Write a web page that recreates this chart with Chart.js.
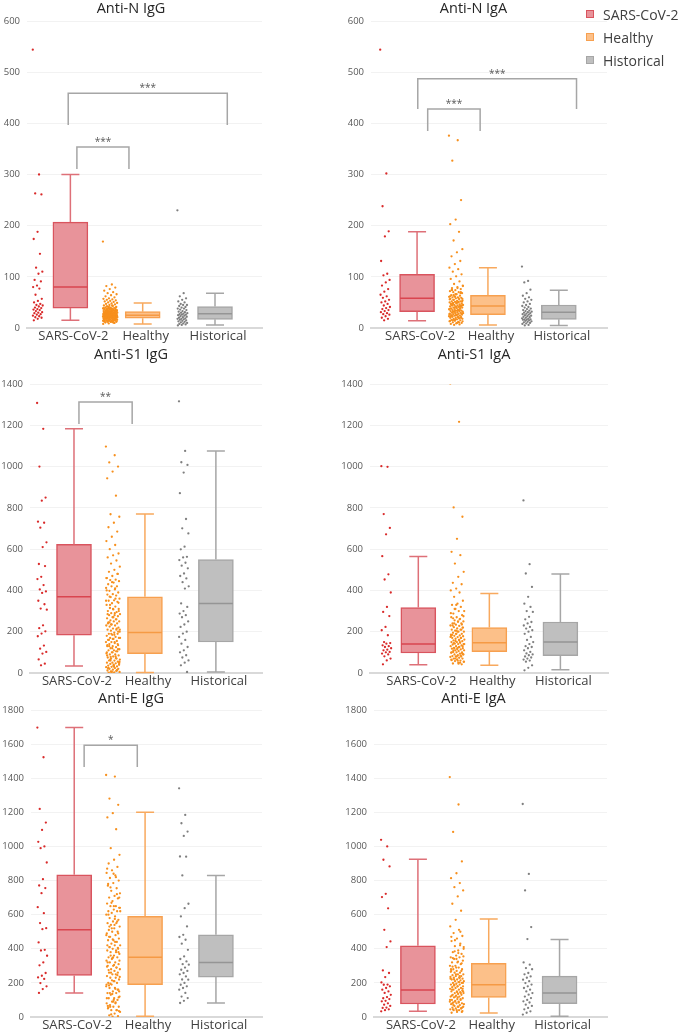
<!DOCTYPE html>
<html>
<head>
<meta charset="utf-8">
<script src="https://cdn.jsdelivr.net/npm/chart.js@4/dist/chart.umd.min.js"></script>
<style>
  body { margin: 0; background: #fff; width: 681px; height: 1033px; position: relative; overflow: hidden; font-family: "Open Sans", sans-serif; }
  canvas { position: absolute; }
  #legend { position: absolute; left: 586px; top: 6px; font-size: 14px; color: #404040; }
  #legend div { height: 23px; line-height: 18px; white-space: nowrap; }
  #legend span { display: inline-block; width: 6px; height: 6px; border: 1px solid; margin-right: 9px; vertical-align: 2px; }
</style>
</head>
<body>
<canvas id="c1" width="340" height="345" style="left:0;top:0"></canvas>
<canvas id="c2" width="341" height="345" style="left:340px;top:0"></canvas>
<canvas id="c3" width="340" height="345" style="left:0;top:345px"></canvas>
<canvas id="c4" width="341" height="345" style="left:340px;top:345px"></canvas>
<canvas id="c5" width="340" height="343" style="left:0;top:690px"></canvas>
<canvas id="c6" width="341" height="343" style="left:340px;top:690px"></canvas>
<div id="legend"></div>
<script>
// groups on the x axis
var groups = ['SARS-CoV-2', 'Healthy', 'Historical'];

// box stats per group: [min, q1, median, q3, max]
var nIgG_box = [[15, 39, 80, 207, 300], [8, 19, 25, 32, 49], [6, 17, 28, 42, 68]];
var nIgA_box = [[14, 32, 58, 105, 188], [6, 26, 43, 64, 118], [5, 17, 31, 45, 74]];
var s1IgG_box = [[34, 183, 369, 623, 1183], [2, 94, 196, 369, 770], [5, 150, 337, 550, 1075]];
var s1IgA_box = [[40, 97, 141, 317, 564], [37, 103, 147, 220, 385], [16, 84, 150, 247, 480]];
var eIgG_box = [[141, 244, 511, 834, 1697], [4, 189, 351, 590, 1201], [82, 234, 320, 482, 830]];
var eIgA_box = [[33, 76, 158, 418, 925], [23, 115, 189, 314, 574], [4, 78, 141, 240, 455]];

// individual points
var nIgG_sars = [544,300,263,261,188,174,145,118,110,106,94,91,83,80,77,65,57,53,50,47,45,44,42,40,39,37,36,35,33,31,30,29,27,26,24,23,21,20,18,15];
var nIgG_healthy = [169,85,82,79,76,73,70,68,66,64,62,60,58,57,56,55,54,53,52,51,50,49,48,47,46,45,44,43,42,41,40,40,39,39,38,38,37,37,36,36,35,35,35,34,34,34,33,33,33,32,32,32,31,31,31,30,30,30,30,29,29,29,29,28,28,28,28,27,27,27,27,26,26,26,26,25,25,25,25,24,24,24,24,23,23,23,23,22,22,22,22,21,21,21,21,20,20,20,20,19,19,19,18,18,18,17,17,17,16,16,16,15,15,15,14,14,13,13,12,12,11,10,9,8,
  44,42,40,38,37,36,35,34,33,32,31,30,29,28,27,26,25,24,23,22,21,20,19,18,17,16,15,14,13,12,11,10,
  41,39,37,35,33,31,29,27,25,23,21,19,17,15,13,11,38,34,30,26,22,18,14,36,32,28,24,20,16,12,33,27,21,15,30,24,18];
var nIgG_hist = [230,68,62,58,55,52,50,47,45,45,43,41,40,38,38,36,35,33,32,31,30,29,28,27,26,26,25,24,23,22,21,20,19,18,18,17,16,15,14,13,12,11,10,9,8,7,6,5];

var nIgA_sars = [544,302,238,189,179,131,106,103,94,89,83,76,71,65,62,59,55,52,50,47,44,41,39,37,35,33,31,29,27,26,23,20,18,15];
var nIgA_healthy = [376,367,327,250,212,203,188,171,154,148,140,131,125,118,115,110,105,101,96,91,86,83,80,78,76,74,72,70,70,68,66,64,63,62,61,60,60,59,58,57,56,55,54,53,52,52,51,50,50,49,48,48,47,46,45,45,44,44,43,42,42,41,40,40,39,38,38,37,36,36,35,34,34,33,33,32,32,31,30,30,29,28,28,27,26,26,25,24,24,23,22,22,21,20,20,19,18,18,17,16,15,14,13,12,11,10,9,8,7,6,
  82,78,74,70,66,62,58,55,52,49,46,43,40,37,34,31,28,25,22,19,16,13,10,
  75,68,61,56,51,47,44,41,38,35,32,29,26,23,20,17,14,11,64,57,50,45,39,33,27,21,15];
var nIgA_hist = [120,92,89,75,68,63,60,57,55,52,50,47,45,43,41,40,38,37,35,34,33,32,31,30,29,28,27,26,25,24,23,22,21,20,19,18,17,17,16,16,15,14,13,12,11,10,9,8,6,5];

var s1IgG_sars = [1308,1183,1000,850,835,733,728,704,633,610,528,518,466,455,426,405,395,388,350,333,312,307,231,217,202,191,178,133,118,102,94,66,45,37];
var s1IgG_healthy = [1097,1055,1020,1000,976,943,859,769,757,728,706,685,660,639,620,600,579,570,560,545,530,515,500,490,480,470,460,452,450,445,438,430,420,420,412,405,398,390,382,380,375,368,360,352,350,345,338,330,322,315,310,308,300,295,290,285,280,280,275,270,265,260,255,250,250,245,240,235,230,230,225,220,215,210,210,205,200,195,190,190,185,180,175,170,170,165,160,155,150,150,145,140,135,130,130,125,120,115,110,110,105,100,95,90,90,85,80,75,70,70,65,60,60,55,50,50,47,44,40,40,36,32,30,28,24,20,20,16,12,10,8,5,3,2,
  480,440,400,360,330,300,270,240,215,190,170,150,130,115,100,85,72,60,48,36,25,15,6,
  460,410,370,340,310,285,260,235,210,185,160,140,120,100,80,65,50,35,22,12,4,
  350,290,245,200,165,135,105,78,55,30];
var s1IgG_hist = [1316,1076,1021,1008,971,871,746,701,676,612,599,563,560,547,534,520,507,482,470,458,440,420,409,337,320,300,288,280,270,250,235,223,200,191,175,160,142,126,110,100,86,75,61,50,37,5];

var s1IgA_sars = [1002,999,770,703,672,566,478,453,390,320,296,276,223,207,183,150,145,142,134,130,126,120,113,110,102,100,94,90,81,70,61,42];
var s1IgA_healthy = [1403,1217,802,757,650,587,571,530,490,466,437,430,409,400,390,369,350,336,330,320,310,300,300,288,280,270,270,262,255,250,248,240,240,234,230,228,222,220,216,210,210,205,200,200,195,190,190,186,182,180,178,174,170,170,166,162,160,158,154,150,150,146,142,140,140,138,134,130,130,126,122,120,120,118,114,110,110,106,102,100,100,98,94,90,90,86,82,80,80,78,74,70,70,66,62,60,58,54,50,46,42,
  330,290,260,240,220,200,185,170,155,140,125,110,95,80,65,50,
  310,275,250,230,210,190,175,160,145,130,115,100,85,70,55,45,
  265,235,205,180,150,120,90,60];
var s1IgA_hist = [836,527,482,417,369,336,320,300,296,272,260,247,240,230,223,215,207,200,190,175,160,150,140,130,126,120,110,102,95,90,86,80,75,70,65,60,55,37,25,13];

var eIgG_sars = [1697,1523,1220,1140,1097,1027,1000,990,906,808,771,756,726,644,609,551,521,515,437,394,390,359,320,303,258,242,232,223,199,180,164,141];
var eIgG_healthy = [1419,1410,1281,1244,1195,1170,1101,990,951,922,900,880,860,845,830,815,800,785,770,755,740,725,710,700,695,680,665,650,650,640,630,620,620,610,600,590,580,570,560,550,550,540,530,520,510,500,500,490,480,470,460,450,450,440,430,420,420,410,400,400,390,380,380,370,360,350,350,340,330,320,320,310,300,300,290,280,280,270,260,260,250,240,230,230,220,210,200,200,190,180,170,170,160,150,140,140,130,120,110,110,100,90,80,80,70,60,60,50,40,40,30,20,10,5,2,
  870,820,760,700,650,600,560,520,480,440,410,380,350,320,290,260,235,210,185,160,135,110,85,60,35,
  840,780,720,670,620,575,530,490,455,420,390,360,330,305,275,245,215,190,165,140,115,90,65,40,15,
  640,540,470,405,345,295,250,195,150,100,55];
var eIgG_hist = [1341,1185,1136,1087,1062,941,940,830,664,638,590,531,482,469,453,430,394,355,340,326,310,307,290,277,270,258,250,238,220,219,200,189,180,170,160,141,120,111,95,82];

var eIgA_sars = [1039,1000,922,883,722,703,637,511,443,410,273,258,234,203,190,189,180,170,160,150,141,130,117,110,105,95,92,80,72,65,55,53,45,40,33];
var eIgA_healthy = [1407,1246,1085,912,843,814,785,761,742,707,664,623,570,531,511,492,475,460,445,430,415,400,390,380,370,360,350,350,340,330,320,320,310,300,300,290,280,280,270,270,260,260,250,250,245,240,240,235,230,230,225,220,220,215,210,210,205,200,200,195,190,190,185,180,180,175,170,170,165,160,160,155,150,150,145,140,140,135,130,130,125,120,120,115,110,105,100,100,95,90,90,85,80,80,75,70,65,60,60,55,50,50,45,40,40,35,30,25,
  500,450,410,375,345,315,290,265,240,220,200,180,160,140,120,100,85,70,55,40,
  470,420,385,355,325,295,270,250,225,205,185,165,145,125,105,90,75,60,45,30,
  340,280,230,190,150,115,80,50];
var eIgA_hist = [1249,839,742,527,457,320,307,287,280,258,250,238,230,219,210,199,190,180,170,160,150,140,131,120,111,100,92,85,72,65,53,45,33,25,14];

var fills = ['#e8939a', '#fcc089', '#bfbfbf'];
var borders = ['#d9545e', '#f7a04f', '#a6a6a6'];
var whiskers = ['#de7078', '#f8a95e', '#a6a6a6'];
var medians = ['#d9454f', '#f59a45', '#959595'];
var dotColors = ['#d92a2a', '#f7901e', '#7f7f7f'];
var spread = [0.07, 0.1, 0.07];

var panels = [
  {id: 'c1', title: 'Anti-N IgG', box: nIgG_box, pts: [nIgG_sars, nIgG_healthy, nIgG_hist], ymax: 600, step: 100,
   areaL: 27, areaR: 262, xmin: -0.6, xmax: 2.65, titlePad: {top: 0, bottom: 4.2}, xH: 17,
   brackets: [[-0.03, 2.17, 459, 397, '***'], [0.09, 0.81, 354, 311, '***']]},
  {id: 'c2', title: 'Anti-N IgA', box: nIgA_box, pts: [nIgA_sars, nIgA_healthy, nIgA_hist], ymax: 600, step: 100,
   areaL: 31, areaR: 267, xmin: -0.65, xmax: 2.68, titlePad: {top: 0, bottom: 4.2}, xH: 17,
   brackets: [[0.01, 2.25, 487, 428, '***'], [0.15, 0.89, 428, 385, '***']]},
  {id: 'c3', title: 'Anti-S1 IgG', box: s1IgG_box, pts: [s1IgG_sars, s1IgG_healthy, s1IgG_hist], ymax: 1400, step: 200,
   areaL: 30, areaR: 262, xmin: -0.62, xmax: 2.65, titlePad: {top: 1.6, bottom: 20.6}, xH: 17,
   brackets: [[0.07, 0.82, 1313, 1206, '**']]},
  {id: 'c4', title: 'Anti-S1 IgA', box: s1IgA_box, pts: [s1IgA_sars, s1IgA_healthy, s1IgA_hist], ymax: 1400, step: 200,
   areaL: 30, areaR: 268, xmin: -0.68, xmax: 2.67, titlePad: {top: 1.6, bottom: 20.6}, xH: 17,
   brackets: []},
  {id: 'c5', title: 'Anti-E IgG', box: eIgG_box, pts: [eIgG_sars, eIgG_healthy, eIgG_hist], ymax: 1800, step: 200,
   areaL: 31, areaR: 262, xmin: -0.61, xmax: 2.65, titlePad: {top: 0, bottom: 3.2}, xH: 16,
   brackets: [[0.14, 0.89, 1594, 1466, '*']]},
  {id: 'c6', title: 'Anti-E IgA', box: eIgA_box, pts: [eIgA_sars, eIgA_healthy, eIgA_hist], ymax: 1800, step: 200,
   areaL: 34, areaR: 267, xmin: -0.62, xmax: 2.67, titlePad: {top: 0, bottom: 3.2}, xH: 16,
   brackets: []}
];

function boxExtras(p) {
  return {
    id: 'boxExtras',
    afterDatasetsDraw: function(chart) {
      var ctx = chart.ctx, x = chart.scales.x, y = chart.scales.y;
      ctx.save();
      p.box.forEach(function(b, g) {
        var cx = x.getPixelForValue(g);
        ctx.strokeStyle = whiskers[g];
        ctx.lineWidth = 1.5;
        ctx.beginPath();
        ctx.moveTo(cx, y.getPixelForValue(b[3])); ctx.lineTo(cx, y.getPixelForValue(b[4]));
        ctx.moveTo(cx - 9, y.getPixelForValue(b[4])); ctx.lineTo(cx + 9, y.getPixelForValue(b[4]));
        ctx.moveTo(cx, y.getPixelForValue(b[1])); ctx.lineTo(cx, y.getPixelForValue(b[0]));
        ctx.moveTo(cx - 9, y.getPixelForValue(b[0])); ctx.lineTo(cx + 9, y.getPixelForValue(b[0]));
        ctx.stroke();
        ctx.strokeStyle = medians[g];
        ctx.beginPath();
        ctx.moveTo(cx - 17, y.getPixelForValue(b[2])); ctx.lineTo(cx + 17, y.getPixelForValue(b[2]));
        ctx.stroke();
      });
      p.brackets.forEach(function(br) {
        var x1 = x.getPixelForValue(br[0]), x2 = x.getPixelForValue(br[1]);
        var yt = y.getPixelForValue(br[2]), yb = y.getPixelForValue(br[3]);
        ctx.strokeStyle = '#a6a6a6';
        ctx.lineWidth = 1.5;
        ctx.beginPath();
        ctx.moveTo(x1, yb); ctx.lineTo(x1, yt); ctx.lineTo(x2, yt); ctx.lineTo(x2, yb);
        ctx.stroke();
        ctx.fillStyle = '#595959';
        ctx.font = '10px "Open Sans"';
        ctx.textAlign = 'center';
        ctx.textBaseline = 'alphabetic';
        ctx.fillText(br[4], (x1 + x2) / 2, yt - 2);
      });
      ctx.restore();
    }
  };
}

panels.forEach(function(p) {
  var cv = document.getElementById(p.id);
  var datasets = p.pts.map(function(vals, g) {
    return {
      type: 'scatter',
      data: vals.map(function(v, j) {
        return {x: g - 0.45 + (((j * 0.618034) % 1) - 0.5) * 2 * spread[g], y: v};
      }),
      backgroundColor: dotColors[g],
      pointRadius: 1.15,
      pointBorderWidth: 0
    };
  });
  datasets.push({
    type: 'bar',
    data: p.box.map(function(b, g) { return {x: g, y: [b[1], b[3]]}; }),
    backgroundColor: fills,
    borderColor: borders,
    borderWidth: 1.5,
    borderSkipped: false,
    barThickness: 35
  });

  new Chart(cv, {
    type: 'bar',
    data: {datasets: datasets},
    options: {
      responsive: false,
      animation: false,
      events: [],
      layout: {padding: {left: 0, right: cv.width - p.areaR, top: 0, bottom: 0}},
      plugins: {
        legend: {display: false},
        tooltip: {enabled: false},
        title: {
          display: true, text: p.title, color: '#262626',
          font: {family: '"Open Sans"', size: 14.5, weight: 'normal', lineHeight: 1.16},
          padding: p.titlePad
        }
      },
      scales: {
        x: {
          type: 'linear', min: p.xmin, max: p.xmax, offset: false,
          grid: {display: false, drawTicks: false},
          border: {color: '#d9d9d9', width: 2},
          afterBuildTicks: function(s) { s.ticks = groups.map(function(c, i) { return {value: i}; }); },
          afterFit: function(s) { s.height = p.xH; },
          ticks: {
            autoSkip: false, maxRotation: 0, padding: 0, labelOffset: 3, color: '#404040',
            font: {family: '"Open Sans"', size: 13},
            callback: function(v) { return groups[v]; }
          }
        },
        y: {
          min: 0, max: p.ymax,
          grid: {color: '#f2f2f2', drawTicks: false},
          border: {display: false},
          afterFit: function(s) { s.width = p.areaL; },
          ticks: {
            stepSize: p.step, padding: 7, color: '#595959', font: {family: '"Open Sans"', size: 9.5},
            callback: function(v) { return String(v); }
          }
        }
      }
    },
    plugins: [boxExtras(p)]
  });
});

var legend = document.getElementById('legend');
groups.forEach(function(g, i) {
  var row = document.createElement('div');
  var sw = document.createElement('span');
  sw.style.background = fills[i];
  sw.style.borderColor = borders[i];
  row.appendChild(sw);
  row.appendChild(document.createTextNode(g));
  legend.appendChild(row);
});
</script>
</body>
</html>
